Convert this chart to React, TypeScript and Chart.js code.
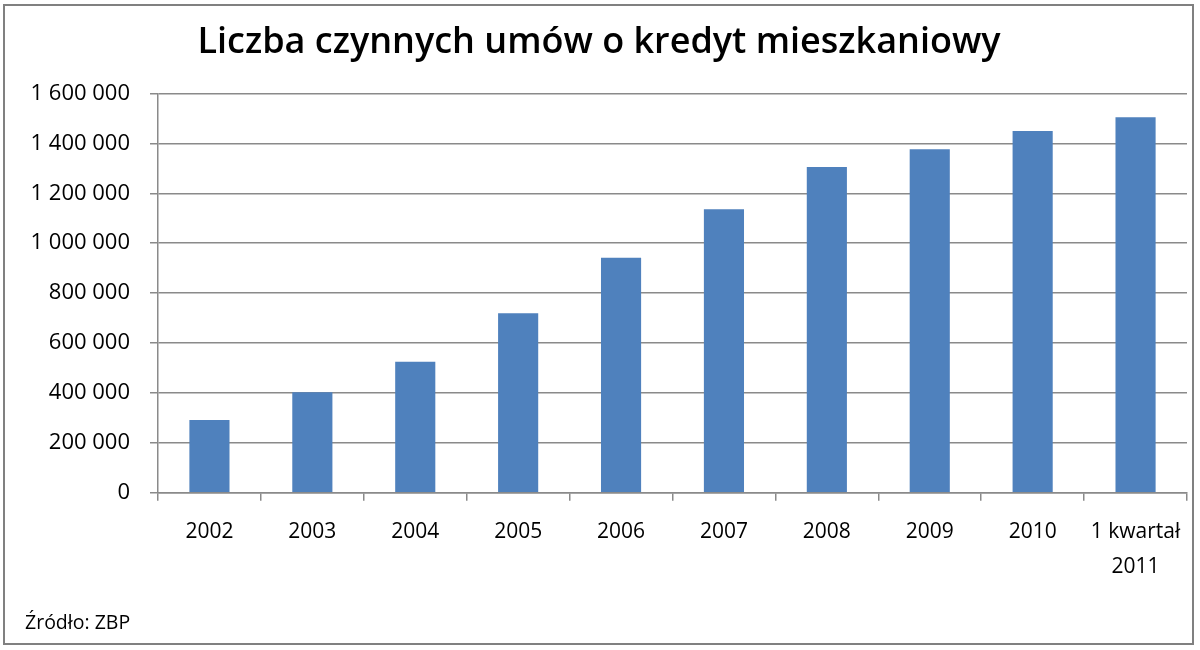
import { useEffect, useRef } from 'react';
import { Chart, registerables } from 'chart.js';

Chart.register(...registerables);

const title = 'Liczba czynnych umów o kredyt mieszkaniowy';
const source = 'Źródło: ZBP';
const categories: (string | string[])[] = [
  '2002', '2003', '2004', '2005', '2006', '2007', '2008', '2009', '2010',
  ['1 kwartał', '2011'],
];
const contracts = [291000, 403000, 525000, 719000, 942000, 1136000, 1305000, 1377000, 1450000, 1505000];
const yMax = 1600000;
const yStep = 200000;

const FONT = '"Open Sans", sans-serif';
const GRID = '#8a8a8a';

const formatNumber = (v: number) => String(v).replace(/\B(?=(\d{3})+(?!\d))/g, ' ');

const sourcePlugin = {
  id: 'sourceNote',
  afterDraw(chart: Chart) {
    const ctx = chart.ctx;
    ctx.save();
    ctx.font = `19.5px ${FONT}`;
    ctx.fillStyle = '#000';
    ctx.textAlign = 'left';
    ctx.textBaseline = 'alphabetic';
    ctx.fillText(source, 25, 629);
    ctx.restore();
  },
};

export default function App() {
  const chartRef = useRef<HTMLCanvasElement>(null);

  useEffect(() => {
    if (!chartRef.current) return;
    const ctx = chartRef.current.getContext('2d');
    if (!ctx) return;

    const chart = new Chart(ctx, {
      type: 'bar',
      data: {
        labels: categories,
        datasets: [{
          label: 'Umowy',
          data: contracts,
          backgroundColor: '#4F81BD',
          barPercentage: 0.39,
          categoryPercentage: 1,
        }],
      },
      options: {
        animation: false,
        responsive: true,
        maintainAspectRatio: false,
        // left padding keeps the title centred on the frame
        layout: { padding: { left: 11, right: 13, top: 0, bottom: 0 } },
        plugins: {
          legend: { display: false },
          tooltip: { enabled: false },
          title: {
            display: true,
            text: title,
            color: '#000',
            font: { family: FONT, size: 36, weight: '600', lineHeight: 1.2 },
            padding: { top: 21, bottom: 29.3 },
          },
        },
        scales: {
          y: {
            min: 0,
            max: yMax,
            afterFit: (s: any) => { s.width = 147; },
            border: { display: true, color: GRID, width: 1.5 },
            grid: { color: GRID, lineWidth: 1.5, drawTicks: true, tickLength: 8 },
            ticks: {
              stepSize: yStep,
              padding: 20,
              color: '#000',
              font: { family: FONT, size: 22 },
              callback: (v: any) => formatNumber(Number(v)),
            },
          },
          x: {
            afterFit: (s: any) => { s.height = 650 - 492.7; },
            border: { display: true, color: GRID, width: 1.5 },
            grid: { display: true, drawOnChartArea: false, drawTicks: true, tickLength: 8, color: GRID, lineWidth: 1.5, offset: true },
            ticks: {
              padding: 14,
              color: '#000',
              maxRotation: 0,
              autoSkip: false,
              font: { family: FONT, size: 21, lineHeight: 1.67 },
            },
          },
        },
      },
      plugins: [sourcePlugin],
    });

    return () => chart.destroy();
  }, []);

  return (
    <div style={{ position: 'absolute', left: 0, top: 0, width: 1200, height: 650, background: '#fff' }}>
      <div style={{ position: 'absolute', left: 3, top: 4, width: 1191, height: 641, border: '2px solid #808080', boxSizing: 'border-box' }} />
      <div style={{ position: 'absolute', left: 0, top: 0, width: 1200, height: 650 }}>
        <canvas ref={chartRef} />
      </div>
    </div>
  );
}
